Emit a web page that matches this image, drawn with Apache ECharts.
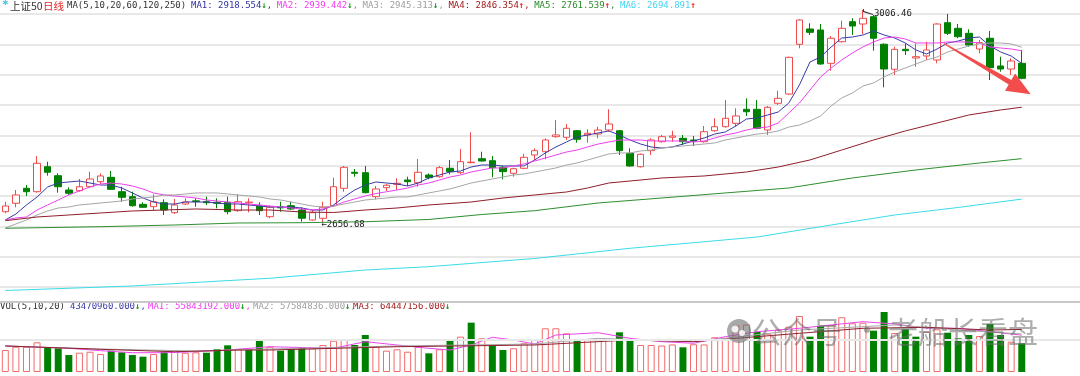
<!DOCTYPE html>
<html lang="zh-cn">
<head>
<meta charset="utf-8">
<title>上证50 日线</title>
<script src="https://cdn.jsdelivr.net/npm/echarts@6/dist/echarts.min.js"></script>
<style>
html, body { margin: 0; padding: 0; background: #fff; }
#main { width: 1080px; height: 376px; }
</style>
</head>
<body>
<div id="main"></div>
<script>
// daily bars (97 trading days)
var opens = [
  2674.1, 2688.0, 2712.7, 2707.1, 2748.3, 2733.5, 2709.9, 2708.7, 2715.3, 2723.6,
  2730.8, 2707.1, 2698.9, 2686.3, 2682.4, 2689.0, 2672.5, 2686.8, 2692.0, 2690.6,
  2689.6, 2689.6, 2675.8, 2688.8, 2683.5, 2665.9, 2681.8, 2684.0, 2676.9, 2660.4,
  2663.3, 2684.0, 2712.7, 2739.1, 2738.4, 2698.9, 2713.7, 2719.3, 2726.4, 2721.9,
  2734.6, 2731.8, 2745.7, 2738.4, 2754.9, 2761.5, 2758.2, 2747.3, 2737.4, 2745.7,
  2767.6, 2773.0, 2797.8, 2796.8, 2807.6, 2800.6, 2802.2, 2808.8, 2807.6, 2770.4,
  2748.3, 2774.7, 2789.5, 2796.8, 2795.1, 2792.3, 2789.5, 2807.6, 2814.2, 2819.8,
  2842.9, 2842.9, 2808.8, 2852.8, 2868.1, 2950.1, 2975.3, 2973.6, 2918.7, 2954.3,
  2987.3, 2983.5, 2995.5, 2950.1, 2908.9, 2941.8, 2927.5, 2930.8, 2924.2, 2985.7,
  2976.4, 2968.2, 2942.3, 2960.0, 2914.3, 2909.3, 2918.7
];
var closes = [
  2683.5, 2701.7, 2707.1, 2753.9, 2739.1, 2715.3, 2704.5, 2715.3, 2728.0, 2733.0,
  2711.0, 2697.9, 2684.0, 2681.4, 2690.6, 2676.9, 2685.2, 2690.3, 2690.9, 2689.0,
  2688.0, 2674.1, 2690.6, 2690.0, 2675.8, 2681.4, 2680.5, 2678.6, 2663.3, 2672.5,
  2681.4, 2715.3, 2747.3, 2737.4, 2705.5, 2711.6, 2717.7, 2720.9, 2723.6, 2739.1,
  2730.2, 2746.7, 2740.1, 2756.6, 2755.8, 2757.7, 2746.7, 2740.1, 2745.0, 2763.8,
  2774.7, 2792.3, 2800.6, 2811.6, 2793.5, 2803.4, 2808.8, 2818.7, 2774.7, 2749.5,
  2768.7, 2792.3, 2797.8, 2798.9, 2789.5, 2790.6, 2806.0, 2814.2, 2828.1, 2831.9,
  2838.9, 2811.6, 2846.2, 2861.0, 2928.6, 2990.1, 2969.8, 2917.6, 2960.0, 2976.4,
  2980.2, 2992.9, 2960.0, 2909.3, 2941.8, 2939.5, 2929.6, 2940.7, 2983.5, 2968.2,
  2962.6, 2948.9, 2952.7, 2911.5, 2909.3, 2922.5, 2894.0
];
var lows = [
  2671.5, 2681.4, 2700.0, 2705.5, 2733.5, 2705.5, 2701.7, 2707.1, 2713.7, 2719.8,
  2709.9, 2690.6, 2682.4, 2680.8, 2676.9, 2668.7, 2670.3, 2685.2, 2682.4, 2685.2,
  2679.7, 2669.8, 2674.1, 2673.1, 2668.7, 2663.3, 2674.1, 2676.9, 2657.7, 2659.3,
  2656.68, 2682.4, 2707.1, 2731.8, 2704.5, 2694.6, 2708.2, 2709.9, 2716.5, 2715.3,
  2727.5, 2730.2, 2735.8, 2736.3, 2753.9, 2756.6, 2730.8, 2727.5, 2731.8, 2744.0,
  2759.3, 2760.5, 2796.1, 2792.3, 2787.9, 2787.9, 2795.1, 2806.0, 2767.6, 2748.3,
  2747.0, 2767.6, 2787.9, 2789.5, 2784.1, 2782.4, 2787.9, 2806.0, 2812.6, 2814.2,
  2831.9, 2810.0, 2800.6, 2850.0, 2866.5, 2943.5, 2965.4, 2916.4, 2906.5, 2952.7,
  2965.4, 2967.0, 2939.5, 2879.2, 2899.5, 2932.4, 2913.1, 2924.2, 2918.7, 2965.4,
  2960.0, 2946.1, 2935.2, 2891.2, 2904.9, 2899.5, 2892.4
];
var highs = [
  2690.6, 2709.9, 2718.1, 2765.9, 2756.6, 2737.4, 2714.4, 2728.0, 2740.1, 2737.4,
  2741.2, 2715.3, 2707.1, 2689.6, 2702.8, 2694.6, 2695.1, 2696.2, 2696.2, 2698.9,
  2696.2, 2698.9, 2703.3, 2696.2, 2689.6, 2684.0, 2690.6, 2690.6, 2681.4, 2676.9,
  2690.6, 2730.2, 2749.5, 2744.5, 2749.5, 2716.5, 2719.8, 2729.2, 2731.8, 2761.0,
  2737.4, 2749.5, 2759.3, 2777.5, 2805.0, 2773.0, 2765.9, 2749.5, 2746.7, 2769.2,
  2778.6, 2795.1, 2825.3, 2818.7, 2808.8, 2810.0, 2814.2, 2842.9, 2808.8, 2778.6,
  2770.0, 2795.1, 2800.6, 2807.6, 2800.6, 2798.9, 2815.4, 2828.1, 2858.2, 2844.6,
  2861.0, 2858.2, 2848.4, 2873.6, 2929.6, 2991.3, 2984.7, 2983.5, 2963.7, 2989.0,
  2992.9, 3006.46, 2998.4, 2951.7, 2946.1, 2951.7, 2951.7, 2954.3, 2984.7, 3000.0,
  2983.5, 2974.8, 2957.1, 2972.0, 2929.6, 2927.0, 2940.7
];
// volume in millions of shares
var volumes = [
  33.3, 38.3, 38.3, 45.0, 36.8, 35.9, 25.7, 29.2, 30.7, 27.3,
  32.3, 29.8, 25.7, 23.2, 27.3, 30.7, 33.3, 29.2, 29.8, 29.2,
  34.4, 40.4, 34.4, 33.3, 47.0, 38.3, 32.3, 34.4, 36.8, 35.9,
  40.9, 47.4, 49.5, 40.9, 56.0, 38.3, 32.3, 34.4, 30.7, 38.3,
  28.3, 34.4, 47.0, 53.5, 74.7, 51.0, 39.4, 33.3, 35.9, 43.5,
  48.5, 66.2, 66.2, 58.6, 49.5, 48.5, 48.5, 50.0, 60.1, 49.5,
  40.9, 40.9, 40.1, 41.7, 37.4, 42.0, 41.7, 52.6, 48.5, 70.4,
  71.9, 60.6, 58.0, 64.1, 68.6, 84.8, 53.5, 69.2, 71.2, 82.9,
  73.8, 74.7, 62.6, 90.9, 59.1, 64.7, 53.5, 61.0, 64.7, 59.5,
  51.0, 56.0, 54.5, 72.7, 56.0, 45.9, 43.47096
];

// moving averages
var ma5 = [
  2660.5, 2670.3, 2685.2, 2698.4, 2714.9, 2721.4, 2723.1, 2724.7, 2721.4, 2718.1,
  2718.1, 2713.2, 2705.0, 2696.7, 2690.1, 2686.8, 2686.8, 2690.1, 2690.1, 2690.1,
  2688.5, 2686.8, 2686.8, 2685.2, 2683.5, 2681.9, 2681.9, 2681.9, 2680.2, 2676.9,
  2676.9, 2685.2, 2698.4, 2709.9, 2718.1, 2723.1, 2721.4, 2719.8, 2716.5, 2721.4,
  2729.7, 2734.6, 2739.6, 2741.2, 2747.8, 2751.1, 2751.1, 2749.5, 2749.5, 2749.5,
  2759.4, 2770.9, 2780.8, 2789.0, 2797.3, 2800.6, 2803.9, 2807.2, 2800.6, 2792.3,
  2785.7, 2780.8, 2779.1, 2780.8, 2785.7, 2790.7, 2795.6, 2802.2, 2805.5, 2815.4,
  2826.9, 2828.6, 2833.5, 2838.5, 2853.3, 2883.0, 2920.9, 2929.1, 2945.6, 2960.4,
  2962.1, 2965.4, 2972.0, 2965.4, 2960.4, 2952.2, 2940.7, 2934.1, 2942.3, 2952.2,
  2955.5, 2960.4, 2962.1, 2947.3, 2937.4, 2930.8, 2918.554
];
var ma10 = [
  2660.5, 2663.8, 2665.4, 2676.9, 2685.2, 2693.4, 2701.7, 2708.3, 2714.9, 2719.8,
  2721.4, 2719.8, 2716.5, 2711.6, 2705.0, 2701.7, 2700.0, 2698.4, 2696.7, 2693.4,
  2691.8, 2690.1, 2688.5, 2686.8, 2685.2, 2683.5, 2681.9, 2680.2, 2678.6, 2676.9,
  2678.6, 2683.5, 2690.1, 2695.1, 2700.0, 2704.0, 2707.0, 2709.9, 2713.2, 2718.1,
  2721.4, 2726.4, 2731.3, 2734.6, 2739.6, 2742.9, 2746.2, 2746.2, 2749.5, 2752.8,
  2757.7, 2762.6, 2767.6, 2772.5, 2775.8, 2780.8, 2785.7, 2789.0, 2792.3, 2792.3,
  2792.3, 2790.7, 2790.7, 2790.7, 2790.7, 2789.0, 2790.7, 2795.6, 2800.6, 2803.9,
  2808.8, 2812.1, 2813.7, 2820.3, 2836.8, 2853.3, 2874.7, 2896.2, 2911.0, 2924.2,
  2935.7, 2945.6, 2953.9, 2960.4, 2962.1, 2958.8, 2952.2, 2952.2, 2952.2, 2953.9,
  2953.9, 2953.9, 2952.2, 2945.6, 2944.0, 2942.3, 2939.442
];
var ma20 = [
  2647.3, 2653.9, 2660.5, 2668.7, 2675.3, 2680.2, 2681.9, 2685.2, 2686.8, 2688.5,
  2690.1, 2691.8, 2695.1, 2696.7, 2698.4, 2701.7, 2701.7, 2703.3, 2705.0, 2705.0,
  2705.0, 2703.3, 2701.7, 2700.0, 2698.4, 2695.1, 2693.4, 2690.1, 2686.8, 2683.5,
  2681.9, 2683.5, 2686.8, 2690.1, 2693.4, 2695.1, 2696.7, 2698.4, 2698.4, 2701.7,
  2705.0, 2708.3, 2711.6, 2716.5, 2721.4, 2724.7, 2728.0, 2731.3, 2734.6, 2736.3,
  2739.6, 2742.9, 2746.2, 2751.1, 2754.4, 2759.4, 2764.3, 2769.2, 2770.9, 2770.9,
  2774.2, 2775.8, 2779.1, 2780.8, 2782.4, 2784.1, 2785.7, 2787.4, 2792.3, 2795.6,
  2798.9, 2802.2, 2803.9, 2807.2, 2813.7, 2817.0, 2823.6, 2831.9, 2848.4, 2861.6,
  2869.8, 2881.3, 2886.3, 2896.2, 2904.4, 2911.0, 2917.6, 2924.2, 2929.1, 2937.4,
  2942.3, 2947.3, 2950.6, 2952.2, 2952.2, 2950.6, 2945.313
];
// slow averages: [day index, value] read at intervals
var ma60 = [
  [0, 2659.3], [3, 2665.4], [6, 2668.7], [9, 2672.0], [12, 2675.3], [15, 2676.9],
  [18, 2678.6], [22, 2676.9], [25, 2676.9], [28, 2673.6], [31, 2672.8], [34, 2676.9],
  [37, 2680.2], [40, 2685.2], [44, 2690.1], [47, 2696.7], [50, 2701.7], [53, 2706.6],
  [55, 2713.2], [57, 2721.4], [62, 2729.7], [66, 2733.0], [70, 2739.6], [73, 2747.8],
  [76, 2759.4], [79, 2775.8], [82, 2792.3], [85, 2807.2], [88, 2820.3], [91, 2833.5],
  [94, 2841.8], [96, 2846.354]
];
var ma120 = [
  [0, 2646.8], [9, 2649.4], [16, 2652.2], [22, 2655.5], [28, 2656.0], [34, 2657.6],
  [40, 2661.3], [45, 2669.5], [50, 2675.8], [56, 2688.5], [62, 2696.7], [68, 2705.0],
  [74, 2713.2], [80, 2729.7], [86, 2742.9], [92, 2754.4], [96, 2761.539]
];
var ma250 = [
  [0, 2544.2], [12, 2551.7], [25, 2564.4], [34, 2578.0], [40, 2583.5], [50, 2597.0],
  [59, 2613.8], [65, 2623.0], [71, 2632.4], [78, 2652.2], [84, 2668.7], [90, 2681.1],
  [96, 2694.891]
];
var volMa5 = [
  [0, 39.4], [6, 35.9], [9, 32.3], [12, 29.2], [15, 29.2], [18, 30.7], [21, 33.3],
  [25, 38.3], [31, 35.9], [34, 45.9], [37, 40.9], [40, 35.9], [42, 33.3], [44, 40.9],
  [46, 52.6], [48, 48.5], [50, 42.4], [52, 56.0], [56, 59.5], [59, 51.0], [62, 45.9],
  [65, 43.5], [68, 53.5], [71, 61.0], [75, 66.2], [78, 71.2], [81, 76.2], [84, 72.7],
  [87, 66.2], [90, 66.2], [93, 61.0], [96, 55.843192]
];
var volMa10 = [
  [0, 39.4], [9, 34.8], [18, 31.8], [25, 34.8], [37, 39.4], [50, 42.4], [56, 51.0],
  [65, 45.9], [75, 63.6], [84, 71.2], [90, 63.6], [96, 57.584836]
];
var volMa20 = [
  [0, 39.4], [9, 34.4], [16, 30.7], [22, 33.3], [25, 33.3], [37, 38.3], [50, 40.9],
  [59, 48.5], [65, 45.9], [75, 58.6], [81, 66.2], [87, 67.7], [93, 63.6], [96, 64.447156]
];

// header texts
var maLast = ['2918.554', '2939.442', '2945.313', '2846.354', '2761.539', '2694.891'];
var maTrend = ['↓', '↓', '↓', '↑', '↑', '↑'];
var volLast = ['43470960.000', '55843192.000', '57584836.000', '64447156.000'];
var volTrend = ['↓', '↓', '↓', '↓'];

var N_DAYS = opens.length;
var days = [];
for (var i = 0; i < N_DAYS + 5; i++) days.push('D' + (i + 1)); // 5 empty slots on the right

var maColors = ['#3a3aa6', '#ee40ee', '#a6a6a6', '#8e1f2c', '#2f8f2f', '#3adce8'];
var maText = ['#3232a0', '#f23cf2', '#a0a0a0', '#a01c1c', '#2c8c2c', '#44d4f0'];
var volColors = ['#ee44ee', '#a8a8a8', '#8e1f2c'];
var UP = '#f04a4a', UP_VOL = '#f26a6a', DOWN = '#008000';
var mono = '"DejaVu Sans Mono", monospace';
var cjk = '"Noto Sans CJK SC", sans-serif';

var candleData = [];
var volData = [];
for (var i = 0; i < N_DAYS; i++) {
  candleData.push([opens[i], closes[i], lows[i], highs[i]]);
  var up = i === 0 ? closes[i] >= opens[i] : closes[i] >= closes[i - 1];
  volData.push({
    value: volumes[i],
    itemStyle: up ? { color: '#fff', borderColor: UP_VOL, borderWidth: 1 } : { color: DOWN }
  });
}
var hiVal = Math.max.apply(null, highs), hiIdx = highs.indexOf(hiVal);
var loVal = Math.min.apply(null, lows), loIdx = lows.indexOf(loVal);

function lineSeries(name, data, color, xi) {
  return {
    name: name, type: 'line', data: data, xAxisIndex: xi, yAxisIndex: xi,
    showSymbol: false, symbol: 'none', silent: true, connectNulls: true, z: 3,
    lineStyle: { color: color, width: 1 }
  };
}

var series = [
  {
    name: '上证50', type: 'candlestick', data: candleData, barWidth: 7, z: 2,
    itemStyle: { color: '#fff', color0: DOWN, borderColor: UP, borderColor0: DOWN, borderWidth: 1 },
    markPoint: {
      silent: true,
      data: [
        {
          coord: [hiIdx, hiVal], value: hiVal,
          symbol: 'path://M0,0 L1,0 L1,2 L10,5 L10,6 L0,3 Z', symbolSize: [10, 6], symbolOffset: [5, 2],
          itemStyle: { color: '#333' },
          label: { show: true, position: 'right', distance: 1, offset: [0, 2], color: '#222',
                   fontFamily: mono, fontSize: 9, formatter: function (p) { return p.value.toFixed(2); } }
        },
        {
          coord: [loIdx, loVal], value: loVal,
          symbol: 'circle', symbolSize: 1, itemStyle: { color: 'rgba(0,0,0,0)' },
          label: { show: true, position: 'right', distance: 0, offset: [-2, 2], color: '#222',
                   fontFamily: mono, fontSize: 9,
                   formatter: function (p) { return '←' + p.value.toFixed(2); } }
        }
      ]
    }
  },
  lineSeries('MA1', ma5, maColors[0], 0),
  lineSeries('MA2', ma10, maColors[1], 0),
  lineSeries('MA3', ma20, maColors[2], 0),
  lineSeries('MA4', ma60, maColors[3], 0),
  lineSeries('MA5', ma120, maColors[4], 0),
  lineSeries('MA6', ma250, maColors[5], 0),
  {
    // middle reference line of the volume pane
    type: 'line', data: [], xAxisIndex: 1, yAxisIndex: 1, z: 1, silent: true,
    markLine: { silent: true, symbol: ['none', 'none'], label: { show: false },
                lineStyle: { color: '#e8e8e8', width: 2, type: 'solid' }, data: [{ yAxis: 48.5 }] }
  },
  { name: 'VOL', type: 'bar', data: volData, xAxisIndex: 1, yAxisIndex: 1, barWidth: 7, z: 2, silent: true },
  lineSeries('VMA1', volMa5, volColors[0], 1),
  lineSeries('VMA2', volMa10, volColors[1], 1),
  lineSeries('VMA3', volMa20, volColors[2], 1)
];

// header texts
var graphics = [
  { type: 'text', x: 2, y: 5, style: { text: '*', fill: '#2cc4ec', font: 'bold 11px ' + mono, verticalAlign: 'middle' } },
  { type: 'text', x: 10, y: 6, style: { text: '上证50', fill: '#333', font: '10.5px ' + cjk, verticalAlign: 'middle' } },
  { type: 'text', x: 43, y: 6, style: { text: '日线', fill: '#e02828', font: '10.5px ' + cjk, verticalAlign: 'middle' } },
  { type: 'text', x: 67, y: 6, style: { text: 'MA(5,10,20,60,120,250)', fill: '#333', font: '9px ' + mono, verticalAlign: 'middle' } },
  { type: 'text', x: 0, y: 307, style: { text: 'VOL(5,10,20)', fill: '#333', font: '9px ' + mono, verticalAlign: 'middle' } }
];
function trendColor(t) { return t === '↑' ? '#ff2020' : '#1a9a1a'; }
for (var k = 0; k < maLast.length; k++) {
  graphics.push({
    type: 'text', x: 191 + k * 85.8, y: 6,
    style: {
      text: '{a|MA' + (k + 1) + ': ' + maLast[k] + '}{b|' + maTrend[k] + '}' + (k < maLast.length - 1 ? '{a|,}' : ''),
      verticalAlign: 'middle',
      rich: {
        a: { fill: maText[k], font: '9px ' + mono },
        b: { fill: trendColor(maTrend[k]), font: 'bold 9px ' + mono }
      }
    }
  });
}
var volX = [70, 148, 253, 353];
var volText = ['#3a3aa6', '#f23cf2', '#a0a0a0', '#a01c1c'];
for (var k = 0; k < volLast.length; k++) {
  graphics.push({
    type: 'text', x: volX[k], y: 307,
    style: {
      text: '{a|' + (k === 0 ? '' : 'MA' + k + ': ') + volLast[k] + '}{b|' + volTrend[k] + '}' + (k < volLast.length - 1 ? '{a|,}' : ''),
      verticalAlign: 'middle',
      rich: {
        a: { fill: volText[k], font: '9px ' + mono },
        b: { fill: trendColor(volTrend[k]), font: 'bold 9px ' + mono }
      }
    }
  });
}
// red trend arrow drawn on top of the picture
graphics.push({
  type: 'polygon', z: 100,
  shape: { points: [[944.3, 43.0], [1011.3, 80.0], [1015.1, 73.6], [1030.7, 94.3], [1005.0, 90.8], [1008.7, 84.4], [943.7, 44.0]] },
  style: { fill: '#f24c4c' }
});
// watermark
graphics.push({ type: 'circle', z: 100, shape: { cx: 739, cy: 331, r: 12 }, style: { fill: 'rgba(110,110,110,0.6)' } });
graphics.push({ type: 'circle', z: 101, shape: { cx: 735, cy: 329, r: 3.5 }, style: { fill: 'rgba(255,255,255,0.85)' } });
graphics.push({ type: 'circle', z: 101, shape: { cx: 742, cy: 333, r: 3 }, style: { fill: 'rgba(255,255,255,0.85)' } });
graphics.push({ type: 'text', z: 100, x: 752, y: 332, style: { text: '公众号', fill: 'rgba(105,105,105,0.55)', font: '30px ' + cjk, verticalAlign: 'middle' } });
graphics.push({ type: 'text', z: 100, x: 852, y: 330, style: { text: '·', fill: 'rgba(105,105,105,0.55)', font: '30px ' + cjk, verticalAlign: 'middle' } });
graphics.push({ type: 'text', z: 100, x: 888, y: 332, style: { text: '老船长看盘', fill: 'rgba(105,105,105,0.55)', font: '30px ' + cjk, verticalAlign: 'middle' } });

var hiddenAxis = { axisLine: { show: false }, axisTick: { show: false }, axisLabel: { show: false } };

var option = {
  animation: false,
  backgroundColor: '#fff',
  grid: [
    { left: 0, top: 7.93, width: 1081, height: 309.4 },
    { left: 0, top: 302, width: 1081, height: 70 }
  ],
  xAxis: [
    Object.assign({ type: 'category', gridIndex: 0, data: days, boundaryGap: true, splitLine: { show: false } }, hiddenAxis),
    Object.assign({ type: 'category', gridIndex: 1, data: days, boundaryGap: true, splitLine: { show: false } }, hiddenAxis)
  ],
  yAxis: [
    Object.assign({
      type: 'value', gridIndex: 0, min: 2500, max: 3010, interval: 50,
      splitLine: { show: true, showMinLine: false, showMaxLine: false, lineStyle: { color: '#e8e8e8', width: 2 } }
    }, hiddenAxis),
    Object.assign({
      type: 'value', gridIndex: 1, min: 0, max: 106, interval: 106,
      splitLine: { show: true, showMinLine: false, showMaxLine: true, lineStyle: { color: '#c8c8c8', width: 2 } }
    }, hiddenAxis)
  ],
  series: series,
  graphic: graphics
};

var chart = echarts.init(document.getElementById('main'));
chart.setOption(option);
</script>
</body>
</html>
